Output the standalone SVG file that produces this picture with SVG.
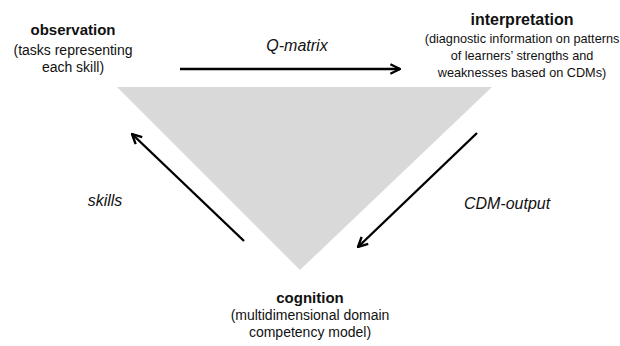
<svg xmlns="http://www.w3.org/2000/svg" width="620" height="346" viewBox="0 0 620 346">
<defs>
<style>
text{font-family:"Liberation Sans",Arial,sans-serif;fill:#111;text-anchor:middle}
.t{font-weight:bold}
.lbl{font-style:italic;font-size:16px}
.arr{stroke:#000;stroke-width:2.4;fill:none;marker-end:url(#ah)}
</style>
<marker id="ah" viewBox="0 0 10 10" refX="9" refY="5" markerWidth="5" markerHeight="5" orient="auto" markerUnits="strokeWidth">
<polyline points="1,1 9,5 1,9" fill="none" stroke="#000" stroke-width="2"/>
</marker>
</defs>
<rect width="620" height="346" fill="#fff"/>
<polygon id="triangle" points="117,87 492,87 300,270" fill="#d9d9d9"/>
<g id="observation">
<text class="t" x="73" y="35" font-size="15">observation</text>
<text x="73" y="55" font-size="14">(tasks representing</text>
<text x="73" y="72" font-size="14">each skill)</text>
</g>
<g id="interpretation">
<text class="t" x="522" y="25" font-size="16">interpretation</text>
<text x="522" y="43" font-size="12.7">(diagnostic information on patterns</text>
<text x="522" y="60" font-size="12.7">of learners’ strengths and</text>
<text x="522" y="77" font-size="12.7">weaknesses based on CDMs)</text>
</g>
<g id="cognition">
<text class="t" x="310" y="303" font-size="15">cognition</text>
<text x="310" y="320" font-size="14">(multidimensional domain</text>
<text x="310" y="337" font-size="14">competency model)</text>
</g>
<g id="connectors">
<line class="arr" x1="180" y1="69" x2="400" y2="69"/>
<text class="lbl" x="297" y="51">Q-matrix</text>
<line class="arr" x1="477" y1="133" x2="358" y2="247"/>
<text class="lbl" x="507" y="209">CDM-output</text>
<line class="arr" x1="244" y1="241" x2="132" y2="134"/>
<text class="lbl" x="105" y="206">skills</text>
</g>
</svg>
